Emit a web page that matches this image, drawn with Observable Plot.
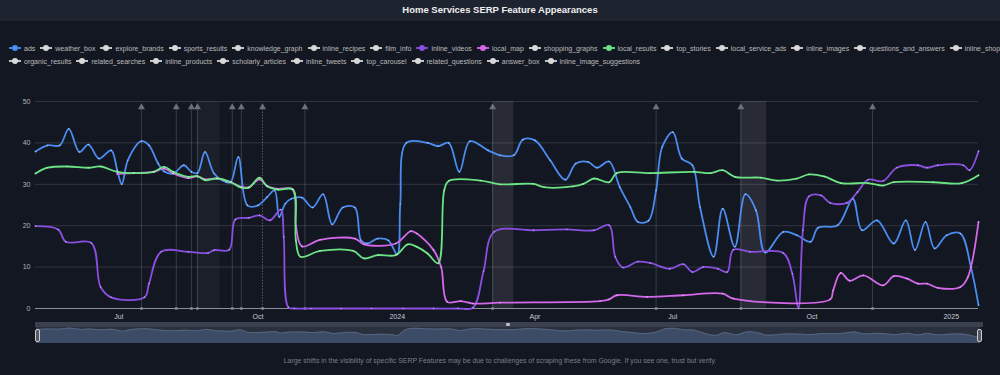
<!DOCTYPE html>
<html><head><meta charset="utf-8">
<script src="https://cdn.jsdelivr.net/npm/d3@7"></script>
<script src="https://cdn.jsdelivr.net/npm/@observablehq/plot@0.6"></script>
<style>
html,body{margin:0;padding:0;background:#131722;width:1000px;height:375px;overflow:hidden;font-family:"Liberation Sans",Arial,sans-serif;}
#title{position:absolute;left:0;top:0;width:1000px;height:21px;background:#1e2330;color:#eee;font-size:9.5px;font-weight:bold;text-align:center;line-height:20px;}
#legend{position:absolute;left:0;top:0;width:1000px;height:80px;overflow:hidden;}
.lrow{position:absolute;left:9px;white-space:nowrap;font-size:7px;color:#bbb;display:flex;align-items:center;}
.litem{display:flex;align-items:center;margin-right:5px;}
.litem svg{margin-right:3px;}
#chart{position:absolute;left:0;top:90px;}
#nav{position:absolute;left:0;top:321px;}
#navbar{position:absolute;left:35px;top:322px;width:948px;height:5px;background:#3a404e;}
#navdot{position:absolute;left:506px;top:323px;width:4px;height:3px;background:#bbb;border-radius:1px;}
.handle{position:absolute;top:329px;width:3px;height:11px;border:1px solid #ccc;border-radius:2px;background:#555b66;}
#caption{position:absolute;left:0;top:357px;width:1000px;text-align:center;font-size:6.9px;color:#7a7f88;}
</style></head>
<body>
<div id="title">Home Services SERP Feature Appearances</div>
<div id="legend"></div>
<div id="chart"></div>
<div id="navbar"></div><div id="navdot"></div>
<div id="nav"></div>
<div class="handle" style="left:35px"></div>
<div class="handle" style="left:977px"></div>
<div id="caption">Large shifts in the visibility of specific SERP Features may be due to challenges of scraping these from Google. If you see one, trust but verify.</div>
<script>
// ---------- data ----------
const legendRow1 = ["ads","weather_box","explore_brands","sports_results","knowledge_graph","inline_recipes","film_info","inline_videos","local_map","shopping_graphs","local_results","top_stories","local_service_ads","inline_images","questions_and_answers","inline_shopping"];
const legendRow2 = ["organic_results","related_searches","inline_products","scholarly_articles","inline_tweets","top_carousel","related_questions","answer_box","inline_image_suggestions"];

const seriesNames = ["ads","inline_videos","local_map","local_results"];
const seriesColors = ["#4a8cf0","#8a4fe0","#d468ea","#6ae383"];

const ads = [["2023-05-07",37.9],["2023-05-15",39.4],["2023-05-23",39.4],["2023-05-29",43.4],["2023-06-05",37.8],["2023-06-11",39.6],["2023-06-18",36.2],["2023-06-26",38.2],["2023-06-30",33.4],["2023-07-03",30.0],["2023-07-07",35.8],["2023-07-16",40.4],["2023-07-21",39.4],["2023-07-27",35],["2023-07-31",33.1],["2023-08-06",32.6],["2023-08-13",34.6],["2023-08-18",33],["2023-08-22",32.7],["2023-08-27",37.8],["2023-09-02",32.6],["2023-09-10",30.5],["2023-09-13",30.5],["2023-09-18",36.6],["2023-09-24",24.9],["2023-10-01",24.9],["2023-10-07",26.9],["2023-10-12",28.5],["2023-10-15",22.1],["2023-10-19",25.3],["2023-10-23",26.5],["2023-10-30",26.8],["2023-11-06",24.4],["2023-11-13",27.6],["2023-11-19",20.3],["2023-11-26",24.4],["2023-12-04",24.4],["2023-12-08",16.5],["2023-12-12",15.7],["2023-12-19",16.9],["2023-12-26",16.5],["2024-01-01",13.1],["2024-01-03",25.3],["2024-01-07",40],["2024-01-21",40],["2024-01-28",39.2],["2024-02-04",40],["2024-02-11",33],["2024-02-18",40.4],["2024-03-01",38.2],["2024-03-09",37],["2024-03-18",37],["2024-03-24",40.8],["2024-04-01",40.6],["2024-04-11",35.8],["2024-04-21",31.1],["2024-04-28",35],["2024-05-06",35.4],["2024-05-12",34],["2024-05-20",35.5],["2024-05-27",29.3],["2024-06-03",24.5],["2024-06-08",20.9],["2024-06-15",21.2],["2024-06-20",28.5],["2024-06-24",39],["2024-07-01",42.6],["2024-07-07",36.2],["2024-07-14",34.6],["2024-07-19",24.5],["2024-07-28",12.5],["2024-08-03",24.1],["2024-08-11",14.9],["2024-08-18",27.6],["2024-08-25",23.7],["2024-08-31",13.5],["2024-09-12",18.5],["2024-09-21",17.7],["2024-09-30",16.1],["2024-10-05",19.5],["2024-10-18",20.1],["2024-10-28",26.5],["2024-11-03",18.9],["2024-11-13",21.3],["2024-11-24",15.7],["2024-12-02",21.3],["2024-12-08",14.1],["2024-12-15",20.9],["2024-12-21",14.5],["2024-12-29",17.7],["2025-01-07",18.1],["2025-01-14",10],["2025-01-19",0.8]];

const inline_videos = [["2023-05-07",19.9],["2023-05-22",19.1],["2023-05-27",16.1],["2023-06-13",15.8],["2023-06-19",5.2],["2023-06-26",2.7],["2023-07-18",2.7],["2023-07-21",6],["2023-07-29",13.7],["2023-08-16",13.7],["2023-08-29",13.4],["2023-09-02",14.1],["2023-09-12",14.2],["2023-09-16",21.5],["2023-09-25",21.9],["2023-10-02",22.5],["2023-10-09",21.3],["2023-10-16",23.9],["2023-10-18",17.3],["2023-10-21",0.3],["2023-10-25",0],["2023-11-05",0],["2023-11-25",0],["2023-12-15",0],["2024-01-05",0],["2024-01-25",0],["2024-02-10",0],["2024-02-20",0.2],["2024-02-27",9],["2024-03-05",18.5],["2024-03-31",18.9],["2024-04-22",19.1],["2024-05-10",18.9],["2024-05-20",20.1],["2024-05-24",12.5],["2024-05-29",9.9],["2024-06-08",11.3],["2024-06-16",11],["2024-06-29",9.6],["2024-07-08",10.7],["2024-07-14",8.8],["2024-07-21",10],["2024-07-31",9.6],["2024-08-06",8.8],["2024-08-10",14.2],["2024-08-21",13.7],["2024-09-12",13.4],["2024-09-18",8.4],["2024-09-22",0],["2024-09-25",18.9],["2024-09-29",27.1],["2024-10-07",27.3],["2024-10-13",25.5],["2024-10-24",25.5],["2024-10-31",28.1],["2024-11-07",31.1],["2024-11-17",30.8],["2024-11-26",34],["2024-12-10",34.6],["2024-12-16",34],["2024-12-23",34.6],["2025-01-09",34.6],["2025-01-13",33.4],["2025-01-19",38]];

const local_map = [["2023-06-30",32.5],["2023-07-11",32.7],["2023-07-24",33],["2023-07-31",33.8],["2023-08-06",32.6],["2023-08-16",31.5],["2023-08-22",31.9],["2023-08-27",31.2],["2023-09-04",31.4],["2023-09-13",30.5],["2023-09-20",29.4],["2023-09-25",29.3],["2023-10-02",31.2],["2023-10-07",29.6],["2023-10-14",28.9],["2023-10-24",28.8],["2023-10-26",20],["2023-10-30",15],["2023-11-11",16.6],["2023-12-04",16.9],["2023-12-10",15.5],["2023-12-31",15.7],["2024-01-10",18.7],["2024-01-14",18.1],["2024-01-25",14.1],["2024-01-30",10],["2024-02-03",1.6],["2024-02-12",1.8],["2024-02-20",1.2],["2024-03-09",1.4],["2024-05-14",1.8],["2024-05-20",2.2],["2024-05-25",3.2],["2024-06-14",2.8],["2024-07-08",3.2],["2024-08-03",3.6],["2024-08-10",2.4],["2024-10-13",2.2],["2024-10-15",4.4],["2024-10-20",8.6],["2024-10-26",6.7],["2024-11-04",8],["2024-11-17",5.6],["2024-11-24",7.8],["2024-12-03",7.2],["2024-12-10",6],["2024-12-16",6],["2024-12-23",5],["2025-01-07",5.2],["2025-01-12",7.6],["2025-01-19",20.9]];

const local_results = [["2023-05-07",32.6],["2023-05-15",34],["2023-05-28",34.3],["2023-06-11",34],["2023-06-19",34.3],["2023-06-30",33],["2023-07-11",32.7],["2023-07-24",33],["2023-07-31",34.2],["2023-08-06",33],["2023-08-16",31.8],["2023-08-22",32],["2023-08-27",31],["2023-09-04",31.4],["2023-09-13",30.5],["2023-09-20",29.2],["2023-09-25",29.2],["2023-10-02",31.6],["2023-10-07",29.5],["2023-10-14",28.7],["2023-10-24",28.7],["2023-10-26",16.5],["2023-10-29",12.5],["2023-11-11",13.9],["2023-12-03",13.9],["2023-12-10",12.1],["2023-12-19",12.9],["2023-12-31",12.9],["2024-01-08",15.5],["2024-01-14",14.9],["2024-01-21",13.3],["2024-01-28",10.9],["2024-02-01",28.5],["2024-02-04",30.8],["2024-02-25",30.9],["2024-03-09",30],["2024-03-31",30.1],["2024-04-07",29.3],["2024-04-26",29.5],["2024-05-03",30.1],["2024-05-10",31.4],["2024-05-20",30.5],["2024-05-25",32.7],["2024-06-16",32.7],["2024-07-15",33],["2024-07-26",32.7],["2024-08-03",33.4],["2024-08-11",31.8],["2024-08-28",31.6],["2024-09-08",30.9],["2024-09-21",31.4],["2024-09-29",32.4],["2024-10-09",31.9],["2024-10-20",30.3],["2024-11-07",30.3],["2024-11-17",29.7],["2024-11-24",30.5],["2024-12-20",30.5],["2025-01-08",30.3],["2025-01-19",32.2]];

const annotationDates = ["2023-07-16","2023-08-08","2023-08-18","2023-08-22","2023-09-14","2023-09-20","2023-10-04","2023-11-01","2024-03-04","2024-06-20","2024-08-15","2024-11-10"];
const dottedAnnotation = "2023-10-04";
const bandStarts = ["2023-08-22","2024-03-04","2024-08-15"];
const bandEnds   = ["2023-09-06","2024-03-18","2024-09-01"];
const bandStrength = [0.035,0.09,0.09];

const xTickDates = ["2023-07-01","2023-10-01","2024-01-01","2024-04-01","2024-07-01","2024-10-01","2025-01-01"];
const xTickLabels = ["Jul","Oct","2024","Apr","Jul","Oct","2025"];
const yTicks = [0,10,20,30,40,50];
const xStart = "2023-05-07", xEnd = "2025-01-19";

// ---------- build ----------
const parse = d3.utcParse("%Y-%m-%d");
const seriesData = {ads, inline_videos, local_map, local_results};
const rows = seriesNames.flatMap(n => seriesData[n].map(([d,v]) => ({name:n, date:parse(d), value:v})));
const colorOf = Object.fromEntries(seriesNames.map((n,i)=>[n, seriesColors[i]]));

// legend
function legendRow(items, top){
  const row = document.createElement("div");
  row.className = "lrow"; row.style.top = top + "px";
  for (const name of items){
    const c = colorOf[name] || "#d8d8d8";
    const it = document.createElement("div"); it.className="litem";
    it.innerHTML = `<svg width="12" height="8"><line x1="0" y1="4" x2="12" y2="4" stroke="${c}" stroke-width="1.8"/><circle cx="6" cy="4" r="3" fill="${c}"/></svg><span>${name}</span>`;
    row.appendChild(it);
  }
  document.getElementById("legend").appendChild(row);
}
legendRow(legendRow1, 44);
legendRow(legendRow2, 57);

const annotations = annotationDates.map(d => ({date: parse(d), dotted: d === dottedAnnotation}));
const bands = bandStarts.map((s,i) => ({x1: parse(s), x2: parse(bandEnds[i]), o: bandStrength[i]}));
const tickLabelOf = new Map(xTickDates.map((d,i)=>[+parse(d), xTickLabels[i]]));

const chart = Plot.plot({
  width: 1000, height: 235,
  marginTop: 11, marginBottom: 17, marginLeft: 35, marginRight: 22,
  style: {background: "transparent", color: "#b8bcc4", fontSize: "7px", fontFamily: "Liberation Sans, Arial, sans-serif"},
  x: {type: "utc", domain: [parse(xStart), parse(xEnd)]},
  y: {domain: [0, 50]},
  color: {domain: seriesNames, range: seriesColors},
  marks: [
    Plot.rect(bands, {x1: "x1", x2: "x2", y1: 0, y2: 50, fill: "#ffffff", fillOpacity: d => d.o}),
    Plot.gridY(yTicks, {stroke: "#ffffff", strokeOpacity: 0.13}),
    Plot.ruleX(annotations.filter(d=>!d.dotted), {x: "date", y1: 0, y2: 49, stroke: "#ffffff", strokeOpacity: 0.16}),
    Plot.ruleX(annotations.filter(d=>d.dotted), {x: "date", y1: 0, y2: 49, stroke: "#ffffff", strokeOpacity: 0.3, strokeDasharray: "1.5,1.5"}),
    Plot.dot(annotations, {x: "date", y: 48.6, symbol: "triangle", r: 2.6, fill: "#6c717c"}),
    Plot.ruleY([0], {stroke: "#8a8f99", strokeWidth: 1}),
    Plot.dot(annotations, {x: "date", y: 0, symbol: "square", r: 1.4, fill: "#8a8f99"}),
    Plot.axisY(yTicks, {tickSize: 0, tickPadding: 5, fill: "#b0b4bc", label: null}),
    Plot.axisX(xTickDates.map(parse), {tickSize: 0, tickPadding: 6, fill: "#c8ccd4", label: null, tickFormat: d => tickLabelOf.get(+d)}),
    Plot.line(rows, {x: "date", y: "value", z: "name", stroke: "name", strokeWidth: 1.8, curve: "catmull-rom"}),
    Plot.dot(rows, {x: "date", y: "value", r: 0.8, fill: "#ffffff", fillOpacity: 0.45})
  ]
});
document.getElementById("chart").appendChild(chart);

// navigator
const adsRows = ads.map(([d,v]) => ({date: parse(d), value: v}));
const nav = Plot.plot({
  width: 1000, height: 24,
  marginTop: 6, marginBottom: 2, marginLeft: 36, marginRight: 20,
  style: {background: "transparent"},
  x: {type: "utc", domain: [parse(xStart), parse(xEnd)], axis: null},
  y: {domain: [-22, 46], axis: null},
  marks: [
    Plot.rect([0], {x1: parse(xStart), x2: parse(xEnd), y1: -22, y2: 46, fill: "#2a303d"}),
    Plot.areaY(adsRows, {x: "date", y: "value", y1: -22, fill: "#3d4c66", curve: "catmull-rom"}),
    Plot.lineY(adsRows, {x: "date", y: "value", stroke: "#56667f", strokeWidth: 1, curve: "catmull-rom"})
  ]
});
document.getElementById("nav").appendChild(nav);
</script>
</body></html>
